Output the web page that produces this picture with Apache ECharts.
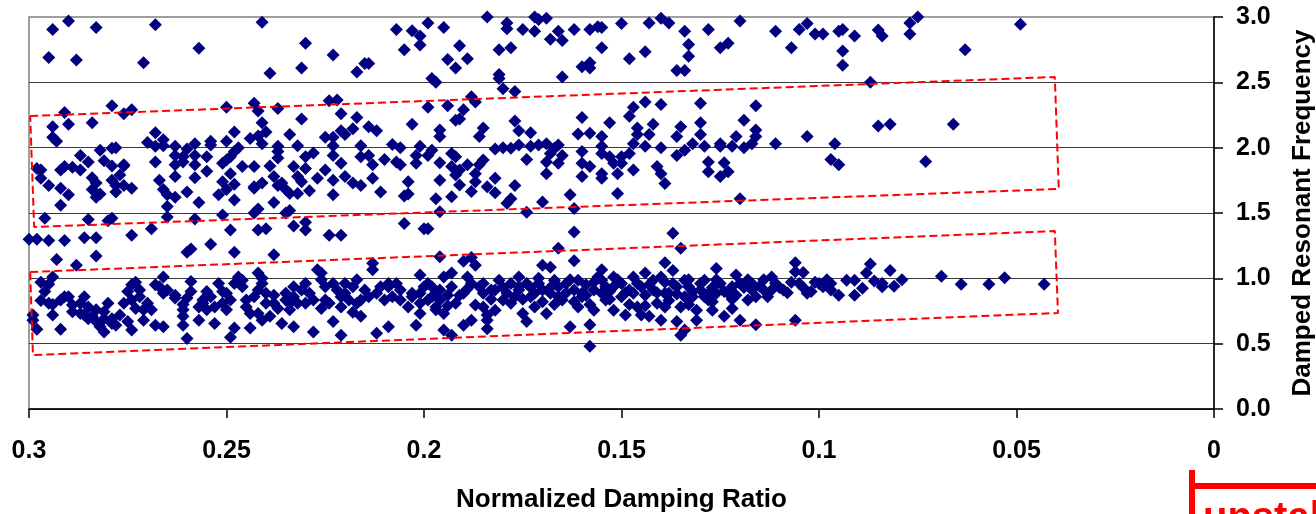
<!DOCTYPE html>
<html>
<head>
<meta charset="utf-8">
<title>Damping ratio vs damped resonant frequency</title>
<script src="https://cdn.jsdelivr.net/npm/echarts@6.0.0/dist/echarts.min.js"></script>
<style>
  html, body { margin: 0; padding: 0; background: #fff; }
  #chart { width: 1316px; height: 514px; }
</style>
</head>
<body>
<div id="chart"></div>
<script>
// x ticks run 0.3 -> 0 (axis is reversed), y ticks 0.0 -> 3.0
const xTicks = [0.3, 0.25, 0.2, 0.15, 0.1, 0.05, 0];
const yTicks = [0, 0.5, 1.0, 1.5, 2.0, 2.5, 3.0];

// [damping ratio, frequency]
const highModes = [
  [0.294,2.905],[0.290,2.97],[0.283,2.92],[0.268,2.94],[0.241,2.96],[0.295,2.69],[0.288,2.67],[0.271,2.65],
  [0.257,2.76],[0.230,2.80],[0.239,2.57],[0.231,2.61],[0.223,2.71],[0.217,2.58],[0.215,2.645],[0.214,2.645],
  [0.207,2.905],[0.203,2.895],[0.205,2.75],[0.198,2.53],[0.197,2.50],
  [0.199,2.955],[0.201,2.855],[0.201,2.785],[0.195,2.92],[0.184,3.00],[0.179,2.955],[0.179,2.91],[0.175,2.905],
  [0.172,3.00],[0.171,2.98],[0.169,2.99],[0.172,2.89],[0.166,2.89],[0.168,2.83],[0.165,2.82],[0.162,2.905],
  [0.158,2.905],[0.156,2.925],[0.155,2.92],[0.150,2.95],[0.143,2.955],[0.140,2.99],[0.138,2.955],[0.134,2.89],
  [0.128,2.905],[0.120,2.97],[0.111,2.89],[0.105,2.905],[0.103,2.95],[0.101,2.87],[0.099,2.87],[0.095,2.89],
  [0.094,2.905],[0.191,2.78],[0.194,2.675],[0.192,2.61],[0.189,2.68],[0.181,2.75],[0.178,2.765],[0.181,2.56],
  [0.181,2.53],[0.165,2.54],[0.160,2.62],[0.158,2.65],[0.158,2.61],[0.155,2.765],[0.148,2.68],[0.144,2.735],
  [0.133,2.79],[0.133,2.70],[0.136,2.59],[0.134,2.59],[0.125,2.765],[0.123,2.80],[0.107,2.765],
  [0.091,2.855],[0.085,2.90],[0.084,2.855],[0.077,2.955],[0.075,3.00],[0.077,2.87],[0.049,2.945],[0.094,2.74],
  [0.094,2.63],[0.063,2.75],[0.087,2.50]
];

const midModes = [
  [0.279,2.32],[0.291,2.27],[0.276,2.26],[0.274,2.29],[0.284,2.19],[0.290,2.18],[0.294,2.16],[0.294,2.08],
  [0.293,2.05],[0.250,2.31],[0.243,2.34],[0.242,2.28],[0.237,2.30],[0.241,2.19],[0.240,2.12],[0.242,2.09],
  [0.244,2.07],[0.241,2.03],[0.248,2.12],[0.250,2.05],[0.258,2.03],[0.254,2.05],[0.254,2.02],[0.268,2.115],
  [0.270,2.04],[0.268,2.01],[0.266,2.06],[0.266,2.015],[0.263,2.01],[0.260,1.99],[0.234,2.10],[0.231,2.22],
  [0.232,2.015],[0.237,2.01],[0.224,2.36],[0.222,2.365],[0.221,2.26],[0.217,2.23],[0.218,2.145],[0.214,2.16],
  [0.212,2.13],[0.221,2.13],[0.220,2.10],[0.225,2.08],[0.223,2.08],[0.223,2.015],[0.203,2.18],[0.208,2.025],
  [0.206,2.00],[0.216,2.015],
  [0.298,1.84],[0.297,1.83],[0.297,1.765],[0.295,1.71],[0.292,1.69],[0.290,1.64],[0.292,1.56],[0.292,1.83],
  [0.291,1.855],[0.289,1.85],[0.287,1.83],[0.287,1.94],[0.285,1.89],[0.284,1.77],[0.283,1.73],[0.284,1.68],
  [0.283,1.62],[0.282,1.645],[0.282,1.98],[0.281,1.90],[0.279,1.995],[0.278,2.00],[0.279,1.86],[0.276,1.86],
  [0.276,1.87],[0.277,1.79],[0.279,1.75],[0.278,1.71],[0.276,1.71],[0.278,1.66],[0.274,1.69],[0.268,1.89],
  [0.267,1.75],[0.266,1.68],[0.265,1.64],[0.265,1.55],[0.263,1.78],[0.263,1.87],[0.263,1.94],[0.261,1.93],
  [0.261,1.89],[0.263,1.62],[0.260,1.66],[0.258,1.94],[0.258,1.87],[0.258,1.77],[0.257,1.58],[0.255,1.82],
  [0.255,1.93],[0.252,1.64],[0.251,1.74],[0.251,1.88],[0.250,1.905],[0.249,1.93],[0.248,1.97],[0.247,2.00],
  [0.246,1.855],[0.249,1.80],[0.248,1.72],[0.250,1.68],[0.248,1.60],[0.243,1.70],[0.243,1.855],[0.243,1.69],
  [0.242,1.53],[0.241,1.73],[0.239,1.86],[0.238,1.78],[0.238,1.58],[0.237,1.92],[0.237,1.97],[0.237,1.71],
  [0.236,1.73],[0.235,1.68],[0.234,1.65],[0.232,1.65],[0.233,1.855],[0.232,1.78],[0.231,1.74],[0.230,1.84],
  [0.229,1.67],[0.230,1.93],[0.228,1.96],[0.227,1.765],[0.225,1.83],[0.223,1.75],[0.223,1.94],[0.221,1.88],
  [0.220,1.78],[0.223,1.64],[0.218,1.73],[0.216,1.71],[0.216,1.93],[0.214,1.94],[0.213,1.87],[0.213,1.765],
  [0.211,1.66],[0.210,1.91],[0.207,1.89],[0.206,1.87],[0.204,1.74],[0.205,1.63],[0.204,1.645],[0.202,1.88],
  [0.202,1.94],
  [0.296,1.46],[0.285,1.45],[0.280,1.44],[0.279,1.46],[0.300,1.30],[0.298,1.30],[0.295,1.29],[0.291,1.29],
  [0.286,1.31],[0.283,1.31],[0.274,1.33],[0.269,1.38],[0.265,1.47],[0.258,1.455],[0.251,1.485],[0.260,1.20],
  [0.259,1.225],[0.254,1.26],[0.248,1.20],[0.249,1.37],[0.242,1.37],[0.240,1.38],[0.243,1.50],[0.235,1.50],
  [0.234,1.52],[0.233,1.40],[0.230,1.37],[0.230,1.43],[0.238,1.18],[0.224,1.33],[0.221,1.33],[0.205,1.42],
  [0.200,1.38],
  [0.180,2.45],[0.177,2.43],[0.188,2.39],[0.187,2.35],[0.199,2.31],[0.194,2.32],[0.190,2.29],[0.192,2.21],
  [0.191,2.22],[0.196,2.135],[0.196,2.085],[0.185,2.15],[0.186,2.085],[0.177,2.205],[0.176,2.13],[0.173,2.115],
  [0.160,2.23],[0.153,2.19],[0.147,2.31],[0.144,2.35],[0.140,2.33],[0.148,2.24],[0.130,2.34],[0.116,2.32],
  [0.130,2.19],[0.142,2.18],[0.135,2.16],[0.119,2.21],[0.161,2.105],[0.158,2.11],[0.146,2.15],[0.146,2.10],
  [0.143,2.10],[0.136,2.085],[0.130,2.10],[0.116,2.135],[0.121,2.085],[0.103,2.085],[0.111,2.03],[0.096,2.03],
  [0.201,2.01],[0.198,1.98],[0.199,1.94],[0.196,1.885],[0.193,1.955],[0.192,1.93],[0.193,1.855],[0.191,1.83],
  [0.192,1.79],[0.189,1.87],[0.187,1.80],[0.186,1.87],[0.185,1.905],[0.187,1.74],[0.184,1.70],[0.182,1.655],
  [0.182,1.765],[0.188,1.665],[0.191,1.715],[0.196,1.75],[0.193,1.625],[0.197,1.61],[0.196,1.51],[0.182,1.99],
  [0.180,2.00],[0.178,1.995],[0.176,2.02],[0.173,2.01],[0.171,2.02],[0.169,2.03],[0.167,1.995],[0.166,2.02],
  [0.165,1.94],[0.168,1.955],[0.169,1.89],[0.166,1.88],[0.169,1.80],[0.174,1.91],[0.177,1.71],[0.178,1.61],
  [0.179,1.575],[0.170,1.585],[0.163,1.64],[0.162,1.535],[0.174,1.505],[0.160,1.97],[0.160,1.88],[0.158,1.855],
  [0.160,1.78],[0.155,2.085],[0.155,2.01],[0.155,1.955],[0.153,1.93],[0.152,1.88],[0.150,1.93],[0.148,1.955],
  [0.150,1.88],[0.151,1.80],[0.155,1.80],[0.155,1.765],[0.147,1.83],[0.151,1.65],[0.147,2.03],[0.144,2.01],
  [0.140,2.00],[0.141,1.855],[0.140,1.80],[0.139,1.725],[0.136,1.94],[0.134,1.98],[0.132,2.03],[0.129,2.01],
  [0.128,1.89],[0.128,1.815],[0.125,2.03],[0.125,2.01],[0.124,1.885],[0.123,1.815],[0.125,1.78],[0.122,2.01],
  [0.119,2.00],[0.117,2.03],[0.116,2.085],[0.097,1.91],[0.095,1.87],[0.120,1.61],[0.162,1.355],[0.199,1.38],
  [0.137,1.345],[0.135,1.23],[0.166,1.23],[0.196,1.165],
  [0.085,2.165],[0.082,2.18],[0.066,2.18],[0.073,1.895],
  [0.190,1.13],[0.188,1.16],[0.187,1.10],[0.170,1.10],[0.168,1.085],[0.162,1.135],[0.139,1.12],[0.137,1.06],
  [0.106,1.12],[0.104,1.045]
];

const lowModes = [
  [0.293,1.145],[0.288,1.10],[0.283,1.17],[0.294,1.01],[0.297,0.97],[0.295,0.955],[0.299,0.72],[0.298,0.61],
  [0.297,0.83],[0.294,0.80],[0.294,0.72],[0.292,0.61],[0.290,0.86],[0.289,0.745],[0.286,0.86],[0.285,0.78],
  [0.284,0.71],[0.282,0.63],[0.281,0.59],[0.280,0.81],[0.279,0.655],[0.278,0.64],[0.275,0.67],[0.274,0.605],
  [0.276,0.81],[0.275,0.90],[0.273,0.97],[0.272,0.86],[0.273,0.77],[0.271,0.68],[0.269,0.76],[0.268,0.95],
  [0.266,1.01],[0.266,0.885],[0.266,0.63],[0.268,0.64],[0.263,0.85],[0.261,0.80],[0.261,0.71],[0.261,0.64],
  [0.260,0.54],[0.259,0.975],[0.259,0.90],[0.257,0.68],[0.256,0.835],[0.255,0.90],[0.253,0.655],[0.252,0.96],
  [0.251,0.81],[0.250,0.885],[0.249,0.55],[0.248,0.62],[0.247,1.01],[0.246,0.935],[0.245,0.835],[0.244,0.73],
  [0.244,0.62],[0.242,1.04],[0.242,0.91],[0.241,0.96],[0.240,0.81],[0.241,0.68],[0.238,0.87],[0.237,0.77],
  [0.236,0.655],[0.235,0.835],[0.233,0.935],[0.233,0.63],[0.232,0.81],[0.230,0.96],[0.229,0.885],[0.228,0.59],
  [0.227,1.065],[0.226,0.99],[0.225,0.835],[0.223,0.67],[0.222,0.91],[0.221,0.565],[0.220,0.96],[0.219,0.835],
  [0.217,0.99],[0.216,0.71],[0.214,0.86],[0.213,1.115],[0.213,1.065],[0.212,0.58],[0.211,0.935],[0.209,0.96],
  [0.209,0.63],[0.207,0.96],[0.206,0.835],[0.203,0.885],[0.202,0.64],[0.197,0.78],[0.221,0.78],[0.226,0.77],
  [0.218,0.74],[0.234,0.76],[0.255,0.76],[0.271,0.76],[0.286,0.72],[0.281,0.745],
  [0.299,0.68],[0.296,0.90],[0.295,0.81],[0.292,0.835],[0.291,0.86],[0.289,0.795],[0.287,0.81],[0.287,0.73],
  [0.285,0.69],[0.283,0.67],[0.283,0.76],[0.281,0.69],[0.279,0.69],[0.277,0.72],[0.274,0.835],[0.274,0.95],
  [0.272,0.91],[0.270,0.81],[0.267,0.935],[0.265,0.91],[0.263,0.87],[0.261,0.76],[0.260,0.85],[0.257,0.78],
  [0.256,0.81],[0.254,0.86],[0.253,0.78],[0.251,0.90],[0.250,0.76],[0.249,0.835],[0.248,0.96],[0.246,0.985],
  [0.245,0.78],[0.243,0.86],[0.242,0.73],[0.241,1.00],[0.240,0.885],[0.239,0.71],[0.238,0.81],[0.235,0.885],
  [0.234,0.81],[0.233,0.86],[0.231,0.91],[0.230,0.81],[0.228,0.835],[0.226,1.04],[0.225,0.935],[0.224,0.81],
  [0.223,0.96],[0.221,0.86],[0.220,0.885],[0.218,0.935],[0.217,0.81],[0.216,0.835],[0.215,0.91],[0.212,0.885],
  [0.210,0.835],[0.209,0.935],[0.208,0.86],[0.206,0.91],[0.204,0.78],[0.203,0.86],[0.201,0.81],[0.200,0.935],
  [0.199,0.835],
  [0.201,1.025],[0.201,0.885],[0.201,0.73],[0.198,0.935],[0.196,0.835],[0.195,1.01],[0.193,1.04],[0.195,0.73],
  [0.194,0.87],[0.195,0.605],[0.193,0.565],[0.190,0.64],[0.190,0.885],[0.189,1.01],[0.188,0.96],[0.188,0.68],
  [0.187,0.795],[0.185,0.885],[0.185,0.96],[0.184,0.72],[0.184,0.615],[0.182,0.755],[0.183,0.91],[0.181,0.985],
  [0.179,0.885],[0.178,0.81],[0.176,0.935],[0.176,1.01],[0.175,0.73],[0.174,0.67],[0.173,0.86],[0.172,0.78],
  [0.171,0.96],[0.171,1.00],[0.169,0.73],[0.168,0.885],[0.166,0.935],[0.165,0.835],[0.163,0.63],[0.162,0.91],
  [0.161,0.78],[0.160,0.86],[0.159,0.95],[0.158,0.48],[0.158,0.645],[0.157,0.755],[0.156,1.01],[0.155,1.065],
  [0.154,0.935],[0.152,0.755],[0.152,1.01],[0.150,0.86],[0.149,0.72],[0.148,0.91],[0.147,1.01],[0.146,0.78],
  [0.145,0.72],[0.144,1.04],[0.143,0.71],[0.142,0.91],[0.141,0.81],[0.140,1.01],[0.140,0.68],[0.138,0.885],
  [0.137,0.96],[0.136,0.67],[0.135,0.78],[0.135,0.565],[0.134,0.605],[0.134,0.985],[0.132,0.86],[0.131,0.68],
  [0.131,0.755],[0.129,0.985],[0.128,0.885],[0.127,0.755],[0.126,1.075],[0.125,0.96],[0.124,0.71],[0.123,0.885],
  [0.122,0.77],[0.121,1.025],[0.120,0.68],[0.120,0.96],[0.117,0.91],[0.116,0.645],[0.116,0.86],[0.114,0.91],
  [0.112,1.01],[0.111,0.96],[0.109,0.91],[0.107,0.97],[0.106,0.68],[0.106,1.05],[0.103,0.885],[0.101,0.97],
  [0.099,0.935],[0.097,0.96],[0.095,0.87],[0.093,0.985],
  [0.199,0.96],[0.198,0.86],[0.197,0.76],[0.196,0.91],[0.193,0.935],[0.192,0.81],[0.186,0.935],[0.185,0.78],
  [0.184,0.68],[0.182,0.91],[0.180,0.835],[0.177,0.86],[0.176,0.91],[0.174,0.96],[0.172,0.885],[0.170,0.91],
  [0.167,0.985],[0.166,0.86],[0.164,0.96],[0.161,0.985],[0.160,0.885],[0.157,0.91],[0.155,0.985],[0.155,0.885],
  [0.154,0.835],[0.152,0.935],[0.150,0.96],[0.147,0.885],[0.145,0.935],[0.142,0.985],[0.139,0.885],[0.136,0.935],
  [0.134,0.86],[0.133,0.935],[0.130,0.91],[0.128,0.835],[0.126,0.885],[0.122,0.935],[0.118,0.835],[0.117,0.96],
  [0.113,0.86],[0.112,0.91],[0.105,0.96],[0.100,0.96],[0.097,0.91],
  [0.168,0.93],[0.164,0.89],[0.163,0.99],[0.159,0.87],[0.157,0.97],[0.153,0.90],[0.151,0.99],[0.149,0.89],
  [0.146,0.96],[0.144,0.87],[0.143,0.95],[0.141,0.89],[0.139,0.97],[0.138,0.83],[0.136,0.88],[0.133,0.99],
  [0.132,0.90],[0.130,0.96],[0.129,0.86],[0.127,0.93],[0.126,0.99],[0.124,0.90],[0.121,0.87],[0.119,0.93],
  [0.118,0.99],[0.115,0.94],[0.114,0.99],[0.110,0.93],[0.108,0.89],[0.104,0.93],[0.102,0.90],[0.098,0.99],
  [0.183,0.84],[0.180,0.93],[0.178,0.96],[0.175,0.84],[0.173,0.93],[0.170,0.82],[0.167,0.80],[0.162,0.82],
  [0.158,0.80],[0.153,0.84],[0.148,0.80],[0.144,0.79],[0.139,0.78],[0.133,0.80],[0.127,0.82],[0.122,0.84],
  [0.189,0.92],[0.191,0.87],[0.194,0.79],[0.197,0.88],
  [0.091,0.985],[0.091,0.87],[0.089,0.925],[0.088,1.04],[0.087,1.11],[0.086,0.98],[0.084,0.96],[0.084,0.935],
  [0.082,1.06],[0.081,0.94],[0.079,0.99],[0.069,1.015],[0.064,0.955],[0.057,0.955],[0.053,1.005],[0.043,0.955]
];

// red dashed outlines around the two mode bands
const upperBox = [[0.2997,2.242],[0.0403,2.541],[0.0393,1.684],[0.2987,1.393],[0.2997,2.242]];
const lowerBox = [[0.2997,1.048],[0.0403,1.362],[0.0395,0.735],[0.2990,0.413],[0.2997,1.048]];

const chart = echarts.init(document.getElementById('chart'), null, { renderer: 'canvas' });

const font = 'Liberation Sans, Arial, sans-serif';

const scatter = (data) => ({
  type: 'scatter',
  data: data,
  symbol: 'diamond',
  symbolSize: 13,
  itemStyle: { color: '#000080', opacity: 1 },
  clip: false,
  silent: true,
  z: 3
});

const box = (data) => ({
  type: 'line',
  data: data,
  symbol: 'none',
  lineStyle: { color: '#ff0000', width: 2, type: [8, 4] },
  silent: true,
  z: 5
});

chart.setOption({
  animation: false,
  backgroundColor: '#ffffff',
  grid: {
    left: 29, right: 102, top: 17, bottom: 105,
    outerBoundsMode: 'none',
    containLabel: false,
    show: true, borderColor: '#808080', borderWidth: 1.5, backgroundColor: '#ffffff'
  },
  xAxis: {
    type: 'value',
    inverse: true,
    min: 0, max: 0.3, interval: 0.05,
    name: 'Normalized Damping Ratio',
    nameLocation: 'middle',
    nameGap: 78,
    nameTextStyle: { fontFamily: font, fontWeight: 'bold', fontSize: 26, color: '#000' },
    axisLine: { show: true, onZero: false, lineStyle: { color: '#000', width: 1.5 } },
    axisTick: { show: true, inside: false, length: 9, lineStyle: { color: '#000', width: 1.5 } },
    axisLabel: {
      margin: 30, fontFamily: font, fontWeight: 'bold', fontSize: 25, color: '#000',
      formatter: (v) => String(xTicks.find((t) => Math.abs(t - v) < 1e-9) ?? v)
    },
    splitLine: { show: false }
  },
  yAxis: {
    type: 'value',
    position: 'right',
    min: 0, max: 3, interval: 0.5,
    name: 'Damped Resonant Frequency',
    nameLocation: 'middle',
    nameRotate: 90,
    nameGap: 76,
    nameTextStyle: { fontFamily: font, fontWeight: 'bold', fontSize: 26, color: '#000' },
    axisLine: { show: true, onZero: false, lineStyle: { color: '#000', width: 1.5 } },
    axisTick: { show: true, inside: false, length: 9, lineStyle: { color: '#000', width: 1.5 } },
    axisLabel: {
      margin: 22, fontFamily: font, fontWeight: 'bold', fontSize: 25, color: '#000',
      formatter: (v) => (yTicks.find((t) => Math.abs(t - v) < 1e-9) ?? v).toFixed(1)
    },
    splitLine: { show: true, showMaxLine: false, lineStyle: { color: '#3a3a3a', width: 1.2 } }
  },
  series: [
    scatter(highModes),
    scatter(midModes),
    scatter(lowModes),
    box(upperBox),
    box(lowerBox)
  ],
  graphic: [
    // "unstable" marker cut off at the lower right corner
    { type: 'line', shape: { x1: 1192, y1: 470, x2: 1192, y2: 514 }, style: { stroke: '#ff0000', lineWidth: 6 } },
    { type: 'line', shape: { x1: 1192, y1: 486, x2: 1316, y2: 486 }, style: { stroke: '#ff0000', lineWidth: 6 } },
    {
      type: 'text', left: 1203, top: 499,
      style: { text: 'unstable', fill: '#ff0000', font: 'bold 40px "Liberation Sans", Arial, sans-serif' }
    }
  ]
});
</script>
</body>
</html>
